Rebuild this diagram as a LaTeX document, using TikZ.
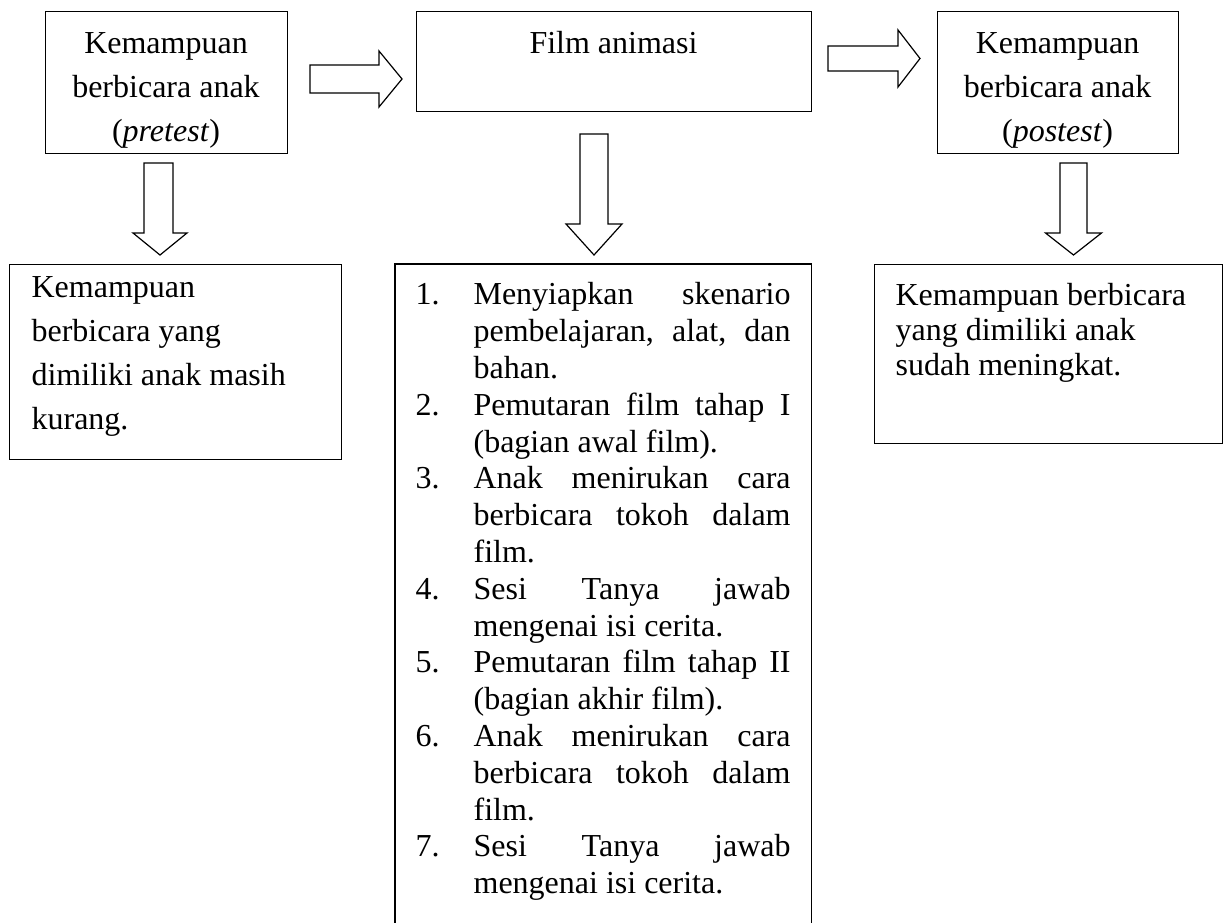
\documentclass[tikz,border=0pt]{standalone}
\usepackage{fontspec}
\setmainfont{Liberation Serif}
\usetikzlibrary{calc}
% one numbered step with hanging indent
\newcommand{\stepitem}[2]{\noindent\hangindent=43.5pt\hangafter=1\makebox[43.5pt][l]{#1}#2\par}

\begin{document}
\begin{tikzpicture}[x=0.75pt,y=0.75pt,yscale=-1,xscale=1,
  line width=0.9pt,
  every node/.style={inner sep=0pt},
  box/.style={draw, rectangle, anchor=north west},
  widetxt/.style={font=\fontsize{24}{33}\selectfont},
  tighttxt/.style={font=\fontsize{24}{26.25}\selectfont},
  listtxt/.style={font=\fontsize{24}{27.6}\selectfont},
  rarrow/.style n args={3}{to path={let \p1=(\tikztostart), \p2=(\tikztotarget) in
    (\x1,{\y1+#1}) -- ({\x2-#3},{\y1+#1}) -- ({\x2-#3},{\y1+#2}) -- (\x2,\y1)
    -- ({\x2-#3},{\y1-#2}) -- ({\x2-#3},{\y1-#1}) -- (\x1,{\y1-#1}) -- cycle}},
  darrow/.style n args={3}{to path={let \p1=(\tikztostart), \p2=(\tikztotarget) in
    ({\x1-#1},\y1) -- ({\x1-#1},{\y2-#3}) -- ({\x2-#2},{\y2-#3}) -- (\x2,\y2)
    -- ({\x2+#2},{\y2-#3}) -- ({\x1+#1},{\y2-#3}) -- ({\x1+#1},\y1) -- cycle}}
]
\useasboundingbox (0,0) rectangle (1223,923);

%Shape: Rectangle [pretest]
\node[box, minimum width=181.5pt, minimum height=106.5pt] (pre) at (45,11) {};
%Shape: Rectangle [film]
\node[box, minimum width=296.25pt, minimum height=75pt] (film) at (416,11) {};
%Shape: Rectangle [postest]
\node[box, minimum width=180.75pt, minimum height=106.5pt] (post) at (937,11) {};
%Shape: Rectangle [pretest result]
\node[box, minimum width=249pt, minimum height=146.25pt] (preres) at (9,264) {};
%Shape: Rectangle [steps, open at the bottom]
\node[anchor=north west, minimum width=311.25pt, minimum height=495.75pt] (steps) at (395,264) {};
\draw (steps.south west) |- (steps.north east) -- (steps.south east);
%Shape: Rectangle [postest result]
\node[box, minimum width=261pt, minimum height=134.25pt] (postres) at (874,264) {};

%Block Arrows
\coordinate (r1s) at (310,79);
\coordinate (r1e) at (402,79);
\coordinate (r2s) at (828,58.5);
\coordinate (r2e) at (920,58.5);
\coordinate (dAs) at (158.5,163);
\coordinate (dAe) at (160,255);
\coordinate (dBs) at (594,134);
\coordinate (dBe) at (594,255);
\coordinate (dCs) at (1073.5,163);
\coordinate (dCe) at (1073.5,255);
\draw[rarrow={10.5pt}{21pt}{17.25pt}] (r1s) to (r1e);
\draw[rarrow={9.4pt}{21.4pt}{16.5pt}] (r2s) to (r2e);
\draw[darrow={10.9pt}{20.25pt}{16.5pt}] (dAs) to (dAe);
\draw[darrow={10.5pt}{21pt}{23.25pt}] (dBs) to (dBe);
\draw[darrow={10.1pt}{21pt}{16.5pt}] (dCs) to (dCe);

% Text Node
\node[widetxt, anchor=north, align=center] (pretxt) at (166,32) {Kemampuan\\berbicara anak\\(\textit{pretest})};
% Text Node
\node[widetxt, anchor=north, align=center] (filmtxt) at (613.5,31) {Film animasi};
% Text Node
\node[widetxt, anchor=north, align=center] (posttxt) at (1057.5,32) {Kemampuan\\berbicara anak\\(\textit{postest})};
% Text Node
\node[widetxt, anchor=north west, align=left] (preresTxt) at (31,276) {Kemampuan\\berbicara yang\\dimiliki anak masih\\kurang.};
% Text Node
\node[tighttxt, anchor=north west, align=left] (postresTxt) at (895,283) {Kemampuan berbicara\\yang dimiliki anak\\sudah meningkat.};
% Text Node
\node[listtxt, anchor=north west, text width=281.25pt, align=justify] (stepstxt) at (415,282) {\hyphenpenalty=10000\exhyphenpenalty=10000\tolerance=10000\rightskip=0pt\parfillskip=0pt plus 1fil%
\stepitem{1.}{Menyiapkan skenario pembelajaran, alat, dan bahan.}%
\stepitem{2.}{Pemutaran film tahap I (bagian awal film).}%
\stepitem{3.}{Anak menirukan cara berbicara tokoh dalam film.}%
\stepitem{4.}{Sesi Tanya jawab mengenai isi cerita.}%
\stepitem{5.}{Pemutaran film tahap II (bagian akhir film).}%
\stepitem{6.}{Anak menirukan cara berbicara tokoh dalam film.}%
\stepitem{7.}{Sesi Tanya jawab mengenai isi cerita.}};

\end{tikzpicture}
\end{document}
